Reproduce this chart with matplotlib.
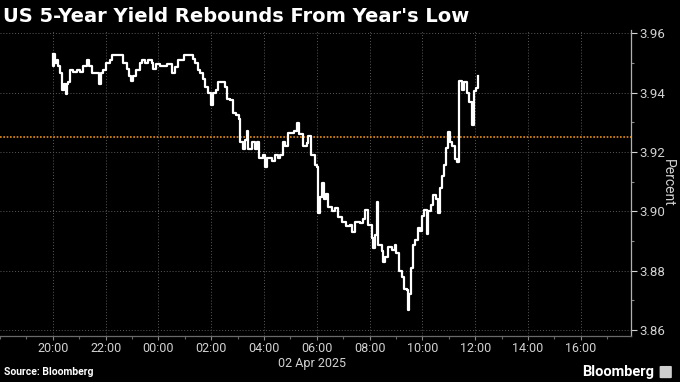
import numpy as np
import pandas as pd
import matplotlib
matplotlib.use("Agg")
import matplotlib.pyplot as plt
import matplotlib.dates as mdates
from matplotlib.ticker import MultipleLocator, FormatStrFormatter
from matplotlib.patches import FancyBboxPatch

# US 5y yield, 1-2 Apr 2025 (times, NY-ish clock)
times = ["20:00", "20:01", "20:03", "20:06", "20:10", "20:12", "20:16", "20:20",
         "20:22", "20:25", "20:29", "20:32", "20:35", "20:40", "20:47", "20:54",
         "21:02", "21:09", "21:15", "21:18", "21:22", "21:28", "21:40", "21:45",
         "21:50", "21:55", "22:02", "22:10", "22:14", "22:37", "22:40", "22:48",
         "22:53", "22:58", "23:03", "23:08", "23:18", "23:22", "23:30", "23:37",
         "23:45", "23:48", "23:54", "00:04", "00:19", "00:30", "00:38", "00:45",
         "00:57", "01:19", "01:23", "01:31", "01:35", "01:41", "01:46", "01:53",
         "02:00", "02:05", "02:11", "02:16", "02:31", "02:35", "02:43", "02:49",
         "02:56", "03:02", "03:05", "03:12", "03:17", "03:21", "03:24", "03:32",
         "03:40", "03:45", "03:49", "03:57", "04:02", "04:07", "04:17", "04:25",
         "04:32", "04:36", "04:42", "04:48", "04:55", "05:07", "05:14", "05:20",
         "05:29", "05:37", "05:41", "05:46", "05:56", "06:01", "06:03", "06:07",
         "06:12", "06:16", "06:21", "06:26", "06:34", "06:41", "06:49", "06:57",
         "07:06", "07:15", "07:19", "07:27", "07:38", "07:46", "07:50", "07:57",
         "08:05", "08:08", "08:12", "08:16", "08:20", "08:27", "08:30", "08:35",
         "08:42", "08:50", "08:58", "09:01", "09:07", "09:13", "09:19", "09:24",
         "09:27", "09:30", "09:33", "09:38", "09:43", "09:49", "09:54", "09:58",
         "10:03", "10:10", "10:13", "10:19", "10:25", "10:31", "10:36", "10:40",
         "10:44", "10:49", "10:54", "10:59", "11:03", "11:08", "11:14", "11:19",
         "11:24", "11:29", "11:34", "11:41", "11:46", "11:52", "11:56", "12:02",
         "12:07"]
yields = [3.953, 3.949, 3.953, 3.950, 3.951, 3.949, 3.9466, 3.9443,
          3.941, 3.943, 3.9395, 3.943, 3.9436, 3.9476, 3.947, 3.9475,
          3.947, 3.949, 3.949, 3.951, 3.949, 3.9466, 3.9466, 3.943,
          3.9466, 3.9476, 3.950, 3.951, 3.9527, 3.9527, 3.950, 3.948,
          3.9455, 3.944, 3.9455, 3.9476, 3.950, 3.951, 3.950, 3.951,
          3.950, 3.948, 3.9497, 3.949, 3.9495, 3.9466, 3.9487, 3.951,
          3.9527, 3.9515, 3.950, 3.9476, 3.9466, 3.9445, 3.942, 3.940,
          3.936, 3.940, 3.941, 3.9436, 3.942, 3.938, 3.9375, 3.933,
          3.9325, 3.931, 3.9235, 3.921, 3.924, 3.927, 3.921, 3.9235,
          3.921, 3.9235, 3.918, 3.919, 3.915, 3.918, 3.917, 3.919,
          3.918, 3.919, 3.9235, 3.922, 3.9265, 3.927, 3.9298, 3.926,
          3.922, 3.923, 3.9255, 3.919, 3.9155, 3.915, 3.8995, 3.905,
          3.9095, 3.904, 3.906, 3.9015, 3.900, 3.901, 3.898, 3.8965,
          3.895, 3.8955, 3.893, 3.8965, 3.896, 3.8975, 3.9005, 3.8955,
          3.891, 3.8875, 3.892, 3.903, 3.8885, 3.8865, 3.883, 3.8845,
          3.888, 3.887, 3.8885, 3.886, 3.880, 3.878, 3.874, 3.8735,
          3.8667, 3.872, 3.881, 3.8885, 3.8905, 3.8945, 3.8935, 3.8985,
          3.9005, 3.8925, 3.900, 3.902, 3.9055, 3.904, 3.8995, 3.908,
          3.912, 3.9155, 3.9215, 3.9267, 3.9235, 3.922, 3.9175, 3.9165,
          3.944, 3.941, 3.9435, 3.940, 3.937, 3.929, 3.9405, 3.9415,
          3.9455]
ref_level = 3.925  # the orange dotted line

# before 18:00 is the 2nd, after is the 1st
stamps = []
for t in times:
    day = "2025-04-01" if int(t[:2]) >= 18 else "2025-04-02"
    stamps.append(pd.Timestamp(day + " " + t))

plt.rcParams["font.family"] = ["Roboto", "DejaVu Sans"]
fg = "#d2d2d2"

fig = plt.figure(figsize=(6.8, 3.82), dpi=100, facecolor="black")
ax = fig.add_axes([0.0, 0.1204, 0.928, 0.801])
ax.set_facecolor("black")

ax.axhline(ref_level, color="#e8901e", lw=1.2, ls=(0, (1, 1)), zorder=2)
ax.plot(stamps, yields, drawstyle="steps-post", color="white", lw=1.6, zorder=3)

ax.set_xlim(pd.Timestamp("2025-04-01 18:00"), pd.Timestamp("2025-04-02 17:54"))
ax.set_ylim(3.858, 3.9611)

# no 18:00 label at the left edge
ax.xaxis.set_major_locator(mdates.HourLocator(byhour=[20, 22, 0, 2, 4, 6, 8, 10, 12, 14, 16]))
ax.xaxis.set_minor_locator(mdates.HourLocator())
ax.xaxis.set_major_formatter(mdates.DateFormatter("%H:%M"))
ax.yaxis.set_major_locator(MultipleLocator(0.02))
ax.yaxis.set_minor_locator(MultipleLocator(0.01))
ax.yaxis.set_major_formatter(FormatStrFormatter("%.2f"))

ax.yaxis.tick_right()
ax.yaxis.set_label_position("right")
ax.tick_params(axis="y", which="major", colors=fg, length=4, width=0.8, pad=2, labelsize=9.5)
ax.tick_params(axis="y", which="minor", colors="#888888", length=2.5, width=0.8)
ax.tick_params(axis="x", which="major", colors="#888888", length=3, width=0.8, pad=1,
               labelsize=9, labelcolor=fg)
ax.tick_params(axis="x", which="minor", colors="#666666", length=2, width=0.8)

ax.grid(which="major", color="#5a5a5a", lw=0.7, ls=(0, (1, 2)))
for s in ["top", "left"]:
    ax.spines[s].set_visible(False)
ax.spines["right"].set_color("#b0b0b0")
ax.spines["bottom"].set_color("#6a6a6a")
ax.spines["right"].set_linewidth(0.9)
ax.spines["bottom"].set_linewidth(0.9)

ax.set_ylabel("Percent", color=fg, fontsize=10, rotation=270, va="center")
ax.yaxis.set_label_coords(1.059, 0.5)

# date under the hour labels
ax.text(pd.Timestamp("2025-04-02 05:50"), -0.07, "02 Apr 2025", transform=ax.get_xaxis_transform(),
        ha="center", va="top", color=fg, fontsize=9)

fig.text(0.005, 0.958, "US 5-Year Yield Rebounds From Year's Low", color="white",
         fontsize=14, fontweight="bold", family="DejaVu Sans", ha="left", va="center")
fig.text(0.006, 0.027, "Source: Bloomberg", color="white", fontsize=7.5,
         fontweight="bold", ha="left", va="center")
fig.text(0.962, 0.027, "Bloomberg", color="white", fontsize=10.5,
         fontweight="bold", ha="right", va="center")
# little logo box next to the wordmark
fig.patches.append(FancyBboxPatch((0.972, 0.012), 0.014, 0.028, boxstyle="round,pad=0.002",
                                  transform=fig.transFigure, facecolor="#cfcfcf",
                                  edgecolor="none", figure=fig))

fig.savefig("out.png", dpi=100, facecolor="black")
